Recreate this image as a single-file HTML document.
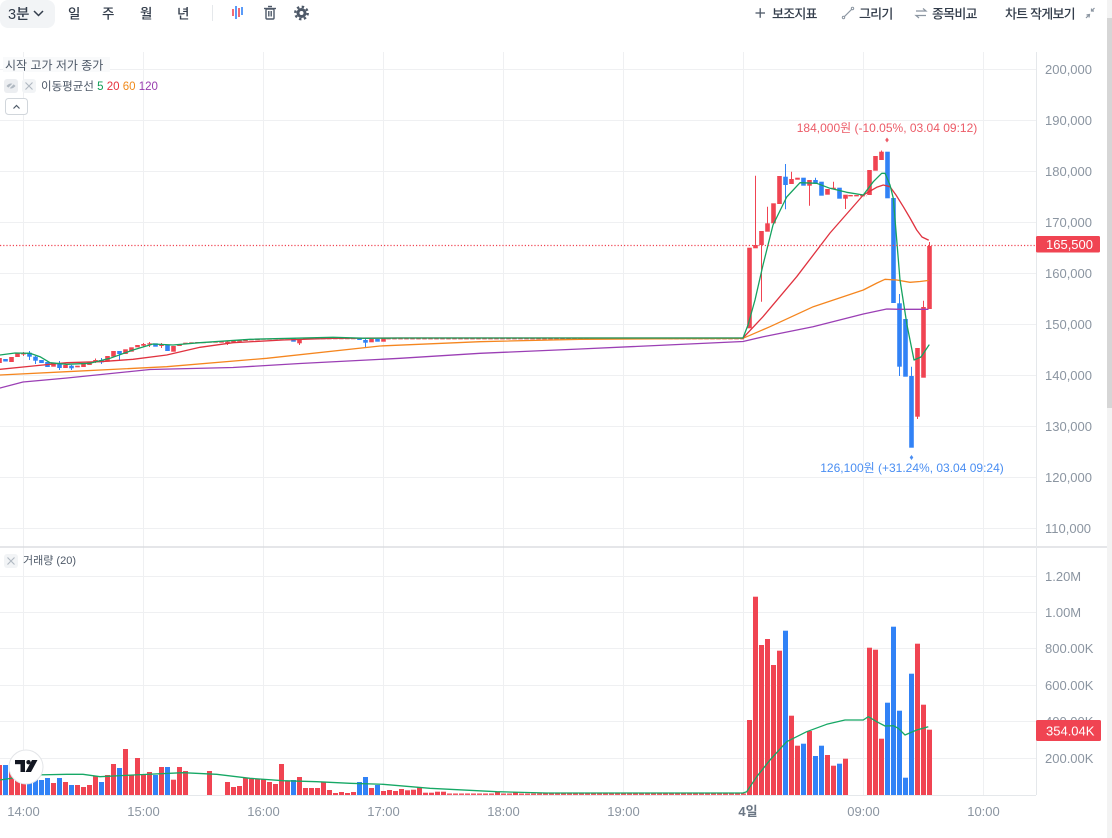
<!DOCTYPE html>
<html><head><meta charset="utf-8">
<style>
html,body{margin:0;padding:0;background:#fff;width:1112px;height:838px;overflow:hidden}
svg{display:block}
text{font-family:"Liberation Sans","Noto Sans CJK KR",sans-serif}
</style></head><body>
<svg width="1112" height="838" viewBox="0 0 1112 838" xmlns="http://www.w3.org/2000/svg">
<rect width="1112" height="838" fill="#fff"/>

<!-- ===== Toolbar ===== -->
<rect x="0" y="0" width="55" height="28" rx="8" fill="#f2f4f6"/>
<text x="8" y="19" font-size="14.5" fill="#333d4b" font-weight="500">3분</text>
<polyline points="34,11 38.5,15.5 43,11" fill="none" stroke="#333d4b" stroke-width="1.5"/>
<g font-size="13.5" fill="#333d4b" font-weight="500">
<text x="68" y="18.5">일</text>
<text x="102" y="18.5">주</text>
<text x="140" y="18.5">월</text>
<text x="177" y="18.5">년</text>
</g>
<line x1="212.5" y1="5" x2="212.5" y2="21" stroke="#e5e8eb"/>
<g stroke-width="1.6">
<line x1="233" y1="9" x2="233" y2="16" stroke="#f04452"/>
<line x1="236" y1="6" x2="236" y2="19" stroke="#3182f6"/>
<line x1="239" y1="8" x2="239" y2="17" stroke="#f04452"/>
<line x1="242" y1="7" x2="242" y2="15" stroke="#3182f6"/>
</g>
<g fill="none" stroke="#4e5968" stroke-width="1.4">
<rect x="266" y="9" width="8" height="10" rx="1"/>
<line x1="264" y1="8.5" x2="276" y2="8.5"/>
<line x1="268" y1="6.5" x2="272" y2="6.5"/>
<line x1="268.8" y1="11" x2="268.8" y2="16.5"/>
<line x1="271.2" y1="11" x2="271.2" y2="16.5"/>
</g>
<circle cx="301.5" cy="13" r="5" fill="#4e5968"/>
<circle cx="301.5" cy="13" r="6.2" fill="none" stroke="#4e5968" stroke-width="2.4" stroke-dasharray="2.4 2.47"/>
<circle cx="301.5" cy="13" r="2" fill="#fff"/>

<line x1="755.5" y1="13" x2="765" y2="13" stroke="#4e5968" stroke-width="1.3"/>
<line x1="760.2" y1="8.2" x2="760.2" y2="17.8" stroke="#4e5968" stroke-width="1.3"/>
<g font-size="13" fill="#333d4b" font-weight="500" letter-spacing="-0.8">
<text x="772" y="18.5">보조지표</text>
<text x="859" y="18.5">그리기</text>
<text x="932" y="18.5">종목비교</text>
<text x="1005" y="18.5">차트 작게보기</text>
</g>
<line x1="844" y1="17" x2="852" y2="9" stroke="#8b95a1" stroke-width="1.2"/>
<circle cx="843.5" cy="17.5" r="1.2" fill="none" stroke="#8b95a1"/>
<circle cx="852.5" cy="8.5" r="1.2" fill="none" stroke="#8b95a1"/>
<g stroke="#8b95a1" stroke-width="1.2" fill="none">
<polyline points="916,11 926,11 923,8.5"/>
<polyline points="926,15.5 916,15.5 919,18"/>
<polyline points="1086,18 1089.5,14.5 "/>
<polyline points="1086.5,15 1089.5,14.5 1089,17.5"/>
<polyline points="1094.5,8 1091.5,11"/>
<polyline points="1091.5,8.5 1091.5,11 1094,11"/>
</g>

<!-- scrollbar -->
<rect x="1107" y="0" width="5" height="838" fill="#f3f3f3"/>
<rect x="1107" y="18" width="5" height="390" fill="#d6d6d6"/>

<!-- ===== Grid ===== -->
<g stroke="#eff0f2" stroke-width="1">
<line x1="23.5" y1="52" x2="23.5" y2="795"/>
<line x1="143.5" y1="52" x2="143.5" y2="795"/>
<line x1="263.5" y1="52" x2="263.5" y2="795"/>
<line x1="383.5" y1="52" x2="383.5" y2="795"/>
<line x1="503.5" y1="52" x2="503.5" y2="795"/>
<line x1="623.5" y1="52" x2="623.5" y2="795"/>
<line x1="743.5" y1="52" x2="743.5" y2="795"/>
<line x1="863.5" y1="52" x2="863.5" y2="795"/>
<line x1="983.5" y1="52" x2="983.5" y2="795"/>
<line x1="0" y1="69.5" x2="1036" y2="69.5"/>
<line x1="0" y1="120.5" x2="1036" y2="120.5"/>
<line x1="0" y1="171.5" x2="1036" y2="171.5"/>
<line x1="0" y1="222.5" x2="1036" y2="222.5"/>
<line x1="0" y1="273.5" x2="1036" y2="273.5"/>
<line x1="0" y1="324.5" x2="1036" y2="324.5"/>
<line x1="0" y1="375.5" x2="1036" y2="375.5"/>
<line x1="0" y1="426.5" x2="1036" y2="426.5"/>
<line x1="0" y1="477.5" x2="1036" y2="477.5"/>
<line x1="0" y1="528.5" x2="1036" y2="528.5"/>
<line x1="0" y1="576.5" x2="1036" y2="576.5"/>
<line x1="0" y1="612.5" x2="1036" y2="612.5"/>
<line x1="0" y1="648.5" x2="1036" y2="648.5"/>
<line x1="0" y1="685.5" x2="1036" y2="685.5"/>
<line x1="0" y1="721.5" x2="1036" y2="721.5"/>
<line x1="0" y1="758.5" x2="1036" y2="758.5"/>
</g>
<line x1="0" y1="547" x2="1107" y2="547" stroke="#d5d8dc" stroke-width="1.2"/>
<line x1="1036.5" y1="52" x2="1036.5" y2="795" stroke="#e5e8eb"/>
<line x1="0" y1="795.5" x2="1036" y2="795.5" stroke="#e5e8eb"/>

<!-- ===== Price candles ===== -->
<g fill="#f04452">
<rect x="-2.8" y="358" width="4.6" height="5"/>
<rect x="9.2" y="357" width="4.6" height="5"/>
<rect x="15.2" y="353" width="4.6" height="4"/>
<rect x="21.2" y="353" width="4.6" height="1.5"/>
<rect x="51.2" y="362.7" width="4.6" height="4"/>
<rect x="63.2" y="365" width="4.6" height="3"/>
<rect x="75.2" y="365.7" width="4.6" height="1.6"/>
<rect x="81.2" y="364" width="4.6" height="3"/>
<rect x="87.2" y="361.7" width="4.6" height="3.3"/>
<rect x="93.2" y="360" width="4.6" height="1.7"/>
<rect x="105.2" y="356" width="4.6" height="5.7"/>
<rect x="111.2" y="351" width="4.6" height="5.7"/>
<rect x="123.2" y="349.3" width="4.6" height="4.7"/>
<rect x="129.2" y="347.3" width="4.6" height="4.4"/>
<rect x="135.2" y="345" width="4.6" height="2.3"/>
<rect x="141.2" y="344" width="4.6" height="1.7"/>
<rect x="147.2" y="343.3" width="4.6" height="1.2"/>
<rect x="159.2" y="344.8" width="4.6" height="1.2"/>
<rect x="171.2" y="346" width="4.6" height="5.7"/>
<rect x="177.2" y="344" width="4.6" height="2"/>
<rect x="183.2" y="342.7" width="4.6" height="1.2"/>
<rect x="189.2" y="342.3" width="4.6" height="1.2"/>
<rect x="195.2" y="342" width="4.6" height="1.2"/>
<rect x="201.2" y="342" width="4.6" height="1.2"/>
<rect x="207.2" y="341.5" width="4.6" height="1.2"/>
<rect x="213.2" y="341.5" width="4.6" height="1.2"/>
<rect x="219.2" y="341.5" width="4.6" height="1.2"/>
<rect x="225.2" y="341.7" width="4.6" height="1.4"/>
<rect x="231.2" y="341" width="4.6" height="1.2"/>
<rect x="237.2" y="340.5" width="4.6" height="1.2"/>
<rect x="243.2" y="339" width="4.6" height="2"/>
<rect x="249.2" y="339" width="4.6" height="1.4"/>
<rect x="255.2" y="339" width="4.6" height="1.2"/>
<rect x="261.2" y="338.5" width="4.6" height="1.2"/>
<rect x="267.2" y="338.5" width="4.6" height="1.2"/>
<rect x="273.2" y="338.3" width="4.6" height="1.2"/>
<rect x="279.2" y="338" width="4.6" height="1.2"/>
<rect x="285.2" y="338" width="4.6" height="1.2"/>
<rect x="297.2" y="339.3" width="4.6" height="4"/>
<rect x="369.2" y="339" width="4.6" height="3.3"/>
<rect x="381.2" y="338.3" width="4.6" height="3.4"/>
<!-- day 4 red -->
<rect x="747.2" y="247.7" width="4.6" height="80.6"/>
<rect x="753.2" y="245" width="4.6" height="3.3"/>
<rect x="759.2" y="231" width="4.6" height="14"/>
<rect x="765.2" y="223.3" width="4.6" height="8.4"/>
<rect x="771.2" y="203.3" width="4.6" height="20"/>
<rect x="777.2" y="176" width="4.6" height="28"/>
<rect x="789.2" y="179" width="4.6" height="5"/>
<rect x="795.2" y="177.7" width="4.6" height="2"/>
<rect x="807.2" y="180" width="4.6" height="5.7"/>
<rect x="825.2" y="189" width="4.6" height="5.7"/>
<rect x="831.2" y="187.7" width="4.6" height="1.5"/>
<rect x="843.2" y="194.7" width="4.6" height="4"/>
<rect x="867.2" y="170" width="4.6" height="25"/>
<rect x="873.2" y="156" width="4.6" height="14.7"/>
<rect x="879.2" y="151.7" width="4.6" height="8.3"/>
<rect x="915.2" y="348" width="4.6" height="68.7"/>
<rect x="921.2" y="307" width="4.6" height="70.7"/>
<rect x="927.2" y="246" width="4.6" height="63"/>
</g>
<g stroke="#f04452" stroke-width="1">
<line x1="23.5" y1="352" x2="23.5" y2="356"/>
<line x1="95.5" y1="358.5" x2="95.5" y2="363"/>
<line x1="143.5" y1="343" x2="143.5" y2="347"/>
<line x1="149.5" y1="342" x2="149.5" y2="347"/>
<line x1="161.5" y1="343" x2="161.5" y2="348"/>
<line x1="227.5" y1="341" x2="227.5" y2="345"/>
<line x1="299.5" y1="339" x2="299.5" y2="345"/>
<line x1="755.5" y1="175.7" x2="755.5" y2="248"/>
<line x1="761.5" y1="231" x2="761.5" y2="301.7"/>
<line x1="767.5" y1="206.7" x2="767.5" y2="224"/>
<line x1="791.5" y1="171.7" x2="791.5" y2="180"/>
<line x1="809.5" y1="185" x2="809.5" y2="205.7"/>
<line x1="833.5" y1="181.7" x2="833.5" y2="188"/>
<line x1="845.5" y1="198" x2="845.5" y2="209"/>
<line x1="881.5" y1="150.5" x2="881.5" y2="152"/>
<line x1="917.5" y1="416" x2="917.5" y2="419"/>
<line x1="923.5" y1="300.7" x2="923.5" y2="308"/>
<line x1="929.5" y1="242" x2="929.5" y2="247"/>
</g>
<!-- flat dashes -->
<line x1="303" y1="338.6" x2="356" y2="338.6" stroke="#f04452" stroke-width="1.3" stroke-dasharray="4.6 1.4"/>
<line x1="386.2" y1="338.6" x2="744" y2="338.6" stroke="#f04452" stroke-width="1.5" stroke-dasharray="4.6 1.4"/>
<line x1="848.2" y1="195.7" x2="866.5" y2="195.7" stroke="#f04452" stroke-width="1.4" stroke-dasharray="4.6 1.4"/>

<g fill="#3182f6">
<rect x="3.2" y="359" width="4.6" height="2.5"/>
<rect x="27.2" y="352.7" width="4.6" height="4"/>
<rect x="33.2" y="356.7" width="4.6" height="4"/>
<rect x="39.2" y="360" width="4.6" height="3"/>
<rect x="45.2" y="362" width="4.6" height="5"/>
<rect x="57.2" y="363" width="4.6" height="5"/>
<rect x="69.2" y="365.7" width="4.6" height="2.6"/>
<rect x="99.2" y="360" width="4.6" height="2.3"/>
<rect x="117.2" y="351" width="4.6" height="3"/>
<rect x="153.2" y="343.3" width="4.6" height="3.4"/>
<rect x="165.2" y="345" width="4.6" height="6"/>
<rect x="291.2" y="338.3" width="4.6" height="3.4"/>
<rect x="357.2" y="338.5" width="4.6" height="1.5"/>
<rect x="363.2" y="340" width="4.6" height="2.7"/>
<rect x="375.2" y="339" width="4.6" height="2.7"/>
<!-- day 4 blue -->
<rect x="783.2" y="176.7" width="4.6" height="8.3"/>
<rect x="801.2" y="177.7" width="4.6" height="8"/>
<rect x="813.2" y="180" width="4.6" height="3.7"/>
<rect x="819.2" y="181.7" width="4.6" height="14"/>
<rect x="837.2" y="187.7" width="4.6" height="11"/>
<rect x="885.2" y="151.7" width="4.6" height="46.6"/>
<rect x="891.2" y="198" width="4.6" height="105"/>
<rect x="897.2" y="303.3" width="4.6" height="63.4"/>
<rect x="903.2" y="319" width="4.6" height="57.7"/>
<rect x="909.2" y="376" width="4.6" height="71.7"/>
</g>
<g stroke="#3182f6" stroke-width="1">
<line x1="29.5" y1="351" x2="29.5" y2="360"/>
<line x1="35.5" y1="356" x2="35.5" y2="364"/>
<line x1="59.5" y1="361" x2="59.5" y2="370"/>
<line x1="71.5" y1="365" x2="71.5" y2="370"/>
<line x1="101.5" y1="358" x2="101.5" y2="364"/>
<line x1="119.5" y1="351" x2="119.5" y2="360"/>
<line x1="365.5" y1="338" x2="365.5" y2="348"/>
<line x1="785.5" y1="164" x2="785.5" y2="209.3"/>
<line x1="815.5" y1="177.7" x2="815.5" y2="181"/>
<line x1="899.5" y1="294" x2="899.5" y2="376"/>
<line x1="911.5" y1="366.7" x2="911.5" y2="377"/>
</g>

<!-- ===== Moving averages ===== -->
<g fill="none" stroke-width="1.3" stroke-linejoin="round" stroke-linecap="round">
<polyline stroke="#9b3fb5" points="0,388 23,382 67,378 150,369.5 233,367.5 300,363.5 400,358.3 480,353.3 580,349 743,341.5 763.3,336.7 813,326.7 863.3,314 886.7,309 900,309.3 928,309.3"/>
<polyline stroke="#f5861f" points="0,375 66.7,371.7 166.7,366.7 266.7,358.3 380,346 480,341.7 580,339.3 743,338.3 770,326.7 813.3,306.7 863.3,290 877,283 885,279.3 896.7,280 910,282.3 920,281.5 928,280.5"/>
<polyline stroke="#e0323f" points="0,369.3 33,366 66.7,362.7 100,361.7 133,359.3 166.7,355 200,347.3 233,342.7 283,340 333,338.3 400,338 743,338 763,316.7 796.7,276.7 830,233 863.3,195 876.7,187.3 883.3,185 890,186.7 896,195 903.3,206.7 910,218 916.7,230 922,237 928.3,240"/>
<polyline stroke="#16a260" points="0,355 15,353 30,353.3 40,356.7 50,362.7 66.7,364.3 90,363.3 110,358.3 133,350 153,344 173,345 200,342.7 250,339.3 333,337.3 366.7,338.3 400,338 743,338 748,325 755,300 763,265 773,225 786.7,197 800,182.7 816.7,183.3 830,188.3 846.7,192.3 863.3,195 873.3,181.7 881.7,173.3 885,173.3 890,185 893.3,198.3 900,280 907,325 914,360 921,357 929,345"/>
</g>

<!-- current price line -->
<line x1="0" y1="245.5" x2="1036" y2="245.5" stroke="#f04452" stroke-width="1.2" stroke-dasharray="1.2 2"/>

<!-- annotations -->
<text x="887" y="132" font-size="12" fill="#ec5b67" text-anchor="middle">184,000원 (-10.05%, 03.04 09:12)</text>
<path d="M887,137.5 l1.8,2.5 -1.8,2.5 -1.8,-2.5z" fill="#ec5b67"/>
<path d="M911.5,455 l1.8,2.5 -1.8,2.5 -1.8,-2.5z" fill="#4a8ef2"/>
<text x="912" y="472" font-size="12" fill="#4a8ef2" text-anchor="middle">126,100원 (+31.24%, 03.04 09:24)</text>

<!-- ===== Price axis ===== -->
<g font-size="13" fill="#8b95a1">
<text x="1045" y="74">200,000</text>
<text x="1045" y="125">190,000</text>
<text x="1045" y="176">180,000</text>
<text x="1045" y="227">170,000</text>
<text x="1045" y="278">160,000</text>
<text x="1045" y="329">150,000</text>
<text x="1045" y="380">140,000</text>
<text x="1045" y="431">130,000</text>
<text x="1045" y="482">120,000</text>
<text x="1045" y="533">110,000</text>
<text x="1045" y="581">1.20M</text>
<text x="1045" y="617">1.00M</text>
<text x="1045" y="653">800.00K</text>
<text x="1045" y="690">600.00K</text>
<text x="1045" y="726">400.00K</text>
<text x="1045" y="763">200.00K</text>
</g>
<rect x="1036" y="236" width="64" height="16.5" rx="1.5" fill="#f04452"/>
<text x="1046" y="249" font-size="13" fill="#fff">165,500</text>

<!-- ===== Legend ===== -->
<rect x="3" y="57" width="107" height="15" fill="#f9fafb"/>
<text x="5" y="69.5" font-size="12" fill="#4e5968">시작 고가 저가 종가</text>
<rect x="4" y="79" width="14" height="14" rx="3" fill="#eceef1"/>
<path d="M6.5,86 q4.5,-5 9,0 q-4.5,5 -9,0z" fill="#b0b8c1"/>
<line x1="6.5" y1="90.5" x2="15.5" y2="81.5" stroke="#eceef1" stroke-width="1.3"/>
<rect x="22" y="79" width="14" height="14" rx="3" fill="#f2f4f6"/>
<path d="M25.5,82.5 l7,7 M32.5,82.5 l-7,7" stroke="#b0b8c1" stroke-width="1.1"/>
<text x="41" y="90" font-size="11.5" fill="#4e5968">이동평균선 <tspan fill="#0f9e55">5</tspan> <tspan fill="#e6323d">20</tspan> <tspan fill="#f08a1b">60</tspan> <tspan fill="#983cae">120</tspan></text>
<rect x="5.5" y="98.5" width="22" height="16" rx="3" fill="#fff" stroke="#d1d6db"/>
<polyline points="13.5,108.5 16.5,105.5 19.5,108.5" fill="none" stroke="#4e5968" stroke-width="1.2"/>

<!-- volume legend -->
<rect x="4" y="554" width="14" height="14" rx="3" fill="#f2f4f6"/>
<path d="M7.5,557.5 l7,7 M14.5,557.5 l-7,7" stroke="#b0b8c1" stroke-width="1.1"/>
<text x="23" y="564" font-size="11" fill="#4e5968">거래량 (20)</text>

<!-- ===== Volume bars ===== -->
<g fill="#f04452">
<rect x="-3" y="765" width="5" height="30"/>
<rect x="9" y="770" width="5" height="25"/>
<rect x="15" y="775" width="5" height="20"/>
<rect x="21" y="782.7" width="5" height="12.3"/>
<rect x="51" y="783" width="5" height="12"/>
<rect x="63" y="782" width="5" height="13"/>
<rect x="75" y="785" width="5" height="10"/>
<rect x="81" y="787" width="5" height="8"/>
<rect x="87" y="785" width="5" height="10"/>
<rect x="93" y="776" width="5" height="19"/>
<rect x="105" y="775" width="5" height="20"/>
<rect x="111" y="764" width="5" height="31"/>
<rect x="123" y="749" width="5" height="46"/>
<rect x="129" y="775" width="5" height="20"/>
<rect x="135" y="758" width="5" height="37"/>
<rect x="141" y="775" width="5" height="20"/>
<rect x="147" y="772" width="5" height="23"/>
<rect x="159" y="767" width="5" height="28"/>
<rect x="171" y="779.7" width="5" height="15.3"/>
<rect x="177" y="767" width="5" height="28"/>
<rect x="183" y="771" width="5" height="24"/>
<rect x="207" y="771" width="5" height="24"/>
<rect x="225" y="782" width="5" height="13"/>
<rect x="231" y="787" width="5" height="8"/>
<rect x="237" y="786" width="5" height="9"/>
<rect x="243" y="778" width="5" height="17"/>
<rect x="249" y="779" width="5" height="16"/>
<rect x="255" y="779" width="5" height="16"/>
<rect x="261" y="779" width="5" height="16"/>
<rect x="267" y="782" width="5" height="13"/>
<rect x="273" y="784" width="5" height="11"/>
<rect x="279" y="764" width="5" height="31"/>
<rect x="285" y="781" width="5" height="14"/>
<rect x="297" y="777" width="5" height="18"/>
<rect x="303" y="788" width="5" height="7"/>
<rect x="309" y="788" width="5" height="7"/>
<rect x="315" y="788" width="5" height="7"/>
<rect x="321" y="782" width="5" height="13"/>
<rect x="327" y="790" width="5" height="5"/>
<rect x="333" y="793" width="5" height="2"/>
<rect x="339" y="792" width="5" height="3"/>
<rect x="345" y="793" width="5" height="2"/>
<rect x="351" y="792" width="5" height="3"/>
<rect x="369" y="788" width="5" height="7"/>
<rect x="381" y="791" width="5" height="4"/>
<rect x="387" y="790" width="5" height="5"/>
<rect x="393" y="791" width="5" height="4"/>
<rect x="399" y="789" width="5" height="6"/>
<rect x="405" y="790.3" width="5" height="4.7"/>
<rect x="411" y="789.7" width="5" height="5.3"/>
<rect x="417" y="787" width="5" height="8"/>
<rect x="423" y="792.7" width="5" height="2.3"/>
<rect x="429" y="792.7" width="5" height="2.3"/>
<rect x="435" y="791.7" width="5" height="3.3"/>
<rect x="441" y="791.7" width="5" height="3.3"/>
<rect x="495" y="792" width="5" height="3"/>
<rect x="513" y="792" width="5" height="3"/>
<!-- day 4 -->
<rect x="747" y="720" width="5" height="75"/>
<rect x="753" y="596.7" width="5" height="198.3"/>
<rect x="759" y="645" width="5" height="150"/>
<rect x="765" y="639" width="5" height="156"/>
<rect x="771" y="665" width="5" height="130"/>
<rect x="777" y="650.7" width="5" height="144.3"/>
<rect x="789" y="715.7" width="5" height="79.3"/>
<rect x="795" y="745.7" width="5" height="49.3"/>
<rect x="807" y="731" width="5" height="64"/>
<rect x="825" y="755" width="5" height="40"/>
<rect x="831" y="765.7" width="5" height="29.3"/>
<rect x="843" y="758.7" width="5" height="36.3"/>
<rect x="867" y="647.7" width="5" height="147.3"/>
<rect x="873" y="649.7" width="5" height="145.3"/>
<rect x="879" y="738.7" width="5" height="56.3"/>
<rect x="915" y="643.7" width="5" height="151.3"/>
<rect x="921" y="704.7" width="5" height="90.3"/>
<rect x="927" y="729.7" width="5" height="65.3"/>
</g>
<line x1="447" y1="794.2" x2="746" y2="794.2" stroke="#f04452" stroke-width="1.4" stroke-dasharray="5 1"/>
<g fill="#3182f6">
<rect x="3" y="765" width="5" height="30"/>
<rect x="27" y="780" width="5" height="15"/>
<rect x="33" y="778.3" width="5" height="16.7"/>
<rect x="39" y="780" width="5" height="15"/>
<rect x="45" y="778" width="5" height="17"/>
<rect x="57" y="778" width="5" height="17"/>
<rect x="69" y="785" width="5" height="10"/>
<rect x="99" y="782" width="5" height="13"/>
<rect x="117" y="768" width="5" height="27"/>
<rect x="153" y="775" width="5" height="20"/>
<rect x="165" y="767" width="5" height="28"/>
<rect x="291" y="780" width="5" height="15"/>
<rect x="357" y="782" width="5" height="13"/>
<rect x="363" y="777" width="5" height="18"/>
<rect x="375" y="785" width="5" height="10"/>
<!-- day 4 -->
<rect x="783" y="630.7" width="5" height="164.3"/>
<rect x="801" y="743.7" width="5" height="51.3"/>
<rect x="813" y="756" width="5" height="39"/>
<rect x="819" y="745.7" width="5" height="49.3"/>
<rect x="837" y="763.7" width="5" height="31.3"/>
<rect x="885" y="702.7" width="5" height="92.3"/>
<rect x="891" y="626.7" width="5" height="168.3"/>
<rect x="897" y="710.7" width="5" height="84.3"/>
<rect x="903" y="777.7" width="5" height="17.3"/>
<rect x="909" y="673.7" width="5" height="121.3"/>
</g>
<polyline fill="none" stroke="#16a865" stroke-width="1.3" stroke-linejoin="round" points="0,780 33,775 66.7,774.3 83,774.3 100,776.7 133,775 183,772.7 216.7,774.3 250,778.3 283,780.7 316.7,781.7 350,783.3 383,784.3 430,788.3 496.7,791.7 546.7,793 743,793 746.7,791.7 756.7,776.7 770,760 786.7,741.7 806.7,731.7 826.7,724.3 845,720 863.3,720 868.3,716.7 876.7,721.7 885,726 893.3,725.7 898.3,728.3 905,735 916.7,730 928.3,726.7"/>

<!-- volume label -->
<rect x="1036" y="720" width="65" height="21" rx="1.5" fill="#f04452"/>
<text x="1046" y="735.5" font-size="13" fill="#fff">354.04K</text>

<!-- TV logo -->
<circle cx="26" cy="767" r="17" fill="#fff" stroke="#e3e5e8" stroke-width="1"/>
<g fill="#131722">
<rect x="15" y="760" width="10" height="4.2"/>
<rect x="20.5" y="760" width="4.5" height="12"/>
<circle cx="28.5" cy="762.2" r="2.2"/>
<polygon points="32,760 37.5,760 31,772 25.5,772"/>
</g>

<!-- ===== Time axis ===== -->
<g font-size="13" fill="#8b95a1" text-anchor="middle">
<text x="23.5" y="816">14:00</text>
<text x="143.5" y="816">15:00</text>
<text x="263.5" y="816">16:00</text>
<text x="383.5" y="816">17:00</text>
<text x="503.5" y="816">18:00</text>
<text x="623.5" y="816">19:00</text>
<text x="748" y="816" fill="#6b7684" font-weight="bold">4일</text>
<text x="863.5" y="816">09:00</text>
<text x="983.5" y="816">10:00</text>
</g>
</svg>
</body></html>
